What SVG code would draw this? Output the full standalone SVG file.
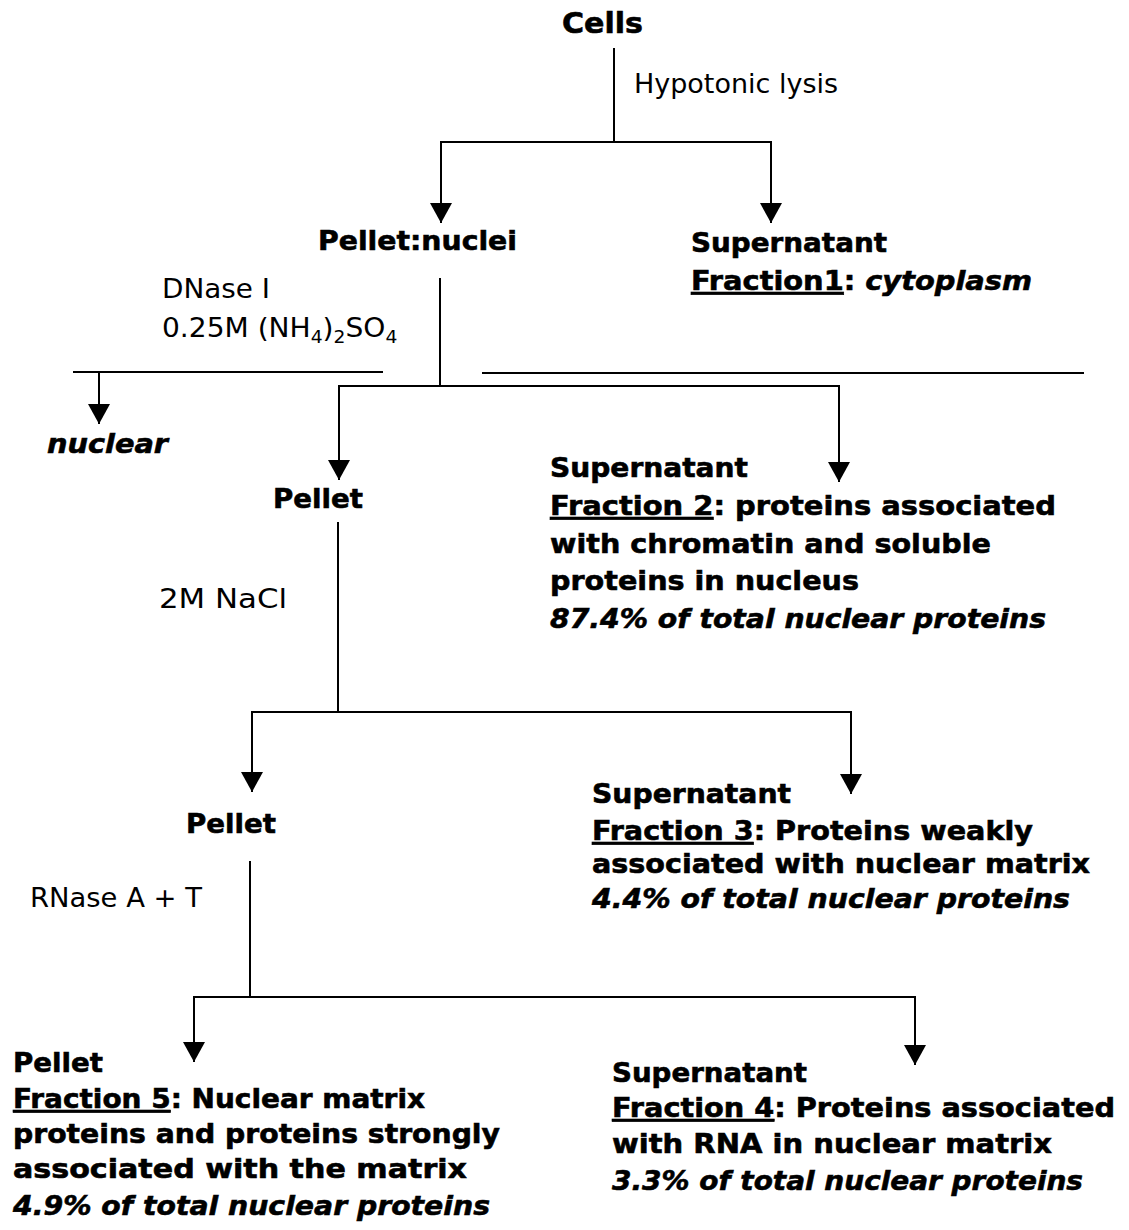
<svg xmlns="http://www.w3.org/2000/svg" width="1129" height="1230" viewBox="0 0 1129 1230">
<defs>
<marker id="ah" viewBox="0 0 20 22" markerWidth="20" markerHeight="22" refX="20" refY="11" orient="auto" markerUnits="userSpaceOnUse">
<path d="M0,0 L20,11 L0,22 Z" fill="#000"/>
</marker>
<style>
text{font-family:"DejaVu Sans","Liberation Sans",Arial,sans-serif;fill:#000}
.b{font-weight:bold;font-size:27px;stroke:#000;stroke-width:0.6px}
.r{font-weight:normal;font-size:27px}
.i{font-style:italic}
.u{text-decoration:underline}
.ln{stroke:#000;stroke-width:2;fill:none}
.ar{stroke:#000;stroke-width:2;fill:none;marker-end:url(#ah)}
</style>
</defs>
<rect width="1129" height="1230" fill="#fff"/>
<g id="connectors">
<line class="ln" x1="614" y1="48" x2="614" y2="143"/>
<line class="ln" x1="440" y1="142" x2="772" y2="142"/>
<path class="ar" d="M441,142 V223"/>
<path class="ar" d="M771,142 V223"/>
<line class="ln" x1="440" y1="278" x2="440" y2="387"/>
<line class="ln" x1="73" y1="372" x2="383" y2="372"/>
<path class="ar" d="M99,372 V424"/>
<line class="ln" x1="482" y1="373" x2="1084" y2="373"/>
<line class="ln" x1="338" y1="386" x2="840" y2="386"/>
<path class="ar" d="M339,386 V480"/>
<path class="ar" d="M839,386 V482"/>
<line class="ln" x1="338" y1="522" x2="338" y2="712"/>
<line class="ln" x1="251" y1="712" x2="852" y2="712"/>
<path class="ar" d="M252,712 V792"/>
<path class="ar" d="M851,712 V794"/>
<line class="ln" x1="250" y1="861" x2="250" y2="998"/>
<line class="ln" x1="193" y1="997" x2="916" y2="997"/>
<path class="ar" d="M194,997 V1062"/>
<path class="ar" d="M915,997 V1065"/>
</g>
<g id="label-hypotonic"><text class="r" x="634" y="93" textLength="204" lengthAdjust="spacingAndGlyphs">Hypotonic lysis</text></g>
<g id="label-dnase">
<text class="r" x="162" y="298" textLength="108" lengthAdjust="spacingAndGlyphs">DNase I</text>
<text class="r" transform="translate(162,337) scale(1.04,1)" x="0" y="0">0.25M (NH<tspan font-size="18" dy="6">4</tspan><tspan dy="-6">)</tspan><tspan font-size="18" dy="6">2</tspan><tspan dy="-6">SO</tspan><tspan font-size="18" dy="6">4</tspan></text>
</g>
<g id="label-nacl"><text class="r" x="159" y="608" textLength="128" lengthAdjust="spacingAndGlyphs">2M NaCl</text></g>
<g id="label-rnase"><text class="r" x="30" y="907" textLength="172" lengthAdjust="spacingAndGlyphs">RNase A + T</text></g>
<g id="node-cells"><text class="b" style="font-size:29px" x="562" y="33" textLength="81" lengthAdjust="spacingAndGlyphs">Cells</text></g>
<g id="node-pellet-nuclei"><text class="b" x="318" y="250" textLength="199" lengthAdjust="spacingAndGlyphs">Pellet:nuclei</text></g>
<g id="node-fraction1">
<text class="b" x="691" y="252" textLength="196" lengthAdjust="spacingAndGlyphs">Supernatant</text>
<text class="b" x="691" y="290" textLength="341" lengthAdjust="spacingAndGlyphs"><tspan class="u">Fraction1</tspan>: <tspan class="i">cytoplasm</tspan></text>
</g>
<g id="node-nuclear"><text class="b i" x="47" y="453" textLength="121" lengthAdjust="spacingAndGlyphs">nuclear</text></g>
<g id="node-pellet-2"><text class="b" x="273" y="508" textLength="90" lengthAdjust="spacingAndGlyphs">Pellet</text></g>
<g id="node-fraction2">
<text class="b" x="550" y="477" textLength="198" lengthAdjust="spacingAndGlyphs">Supernatant</text>
<text class="b" x="550" y="515" textLength="506" lengthAdjust="spacingAndGlyphs"><tspan class="u">Fraction 2</tspan>: proteins associated</text>
<text class="b" x="550" y="553" textLength="441" lengthAdjust="spacingAndGlyphs">with chromatin and soluble</text>
<text class="b" x="550" y="590" textLength="309" lengthAdjust="spacingAndGlyphs">proteins in nucleus</text>
<text class="b i" x="550" y="628" textLength="496" lengthAdjust="spacingAndGlyphs">87.4% of total nuclear proteins</text>
</g>
<g id="node-pellet-3"><text class="b" x="186" y="833" textLength="90" lengthAdjust="spacingAndGlyphs">Pellet</text></g>
<g id="node-fraction3">
<text class="b" x="592" y="803" textLength="199" lengthAdjust="spacingAndGlyphs">Supernatant</text>
<text class="b" x="592" y="840" textLength="441" lengthAdjust="spacingAndGlyphs"><tspan class="u">Fraction 3</tspan>: Proteins weakly</text>
<text class="b" x="592" y="873" textLength="498" lengthAdjust="spacingAndGlyphs">associated with nuclear matrix</text>
<text class="b i" x="592" y="908" textLength="478" lengthAdjust="spacingAndGlyphs">4.4% of total nuclear proteins</text>
</g>
<g id="node-fraction5">
<text class="b" x="13" y="1072" textLength="90" lengthAdjust="spacingAndGlyphs">Pellet</text>
<text class="b" x="13" y="1108" textLength="412" lengthAdjust="spacingAndGlyphs"><tspan class="u">Fraction 5</tspan>: Nuclear matrix</text>
<text class="b" x="13" y="1143" textLength="487" lengthAdjust="spacingAndGlyphs">proteins and proteins strongly</text>
<text class="b" x="13" y="1178" textLength="454" lengthAdjust="spacingAndGlyphs">associated with the matrix</text>
<text class="b i" x="13" y="1215" textLength="477" lengthAdjust="spacingAndGlyphs">4.9% of total nuclear proteins</text>
</g>
<g id="node-fraction4">
<text class="b" x="612" y="1082" textLength="195" lengthAdjust="spacingAndGlyphs">Supernatant</text>
<text class="b" x="612" y="1117" textLength="503" lengthAdjust="spacingAndGlyphs"><tspan class="u">Fraction 4</tspan>: Proteins associated</text>
<text class="b" x="612" y="1153" textLength="440" lengthAdjust="spacingAndGlyphs">with RNA in nuclear matrix</text>
<text class="b i" x="612" y="1190" textLength="471" lengthAdjust="spacingAndGlyphs">3.3% of total nuclear proteins</text>
</g>
</svg>
